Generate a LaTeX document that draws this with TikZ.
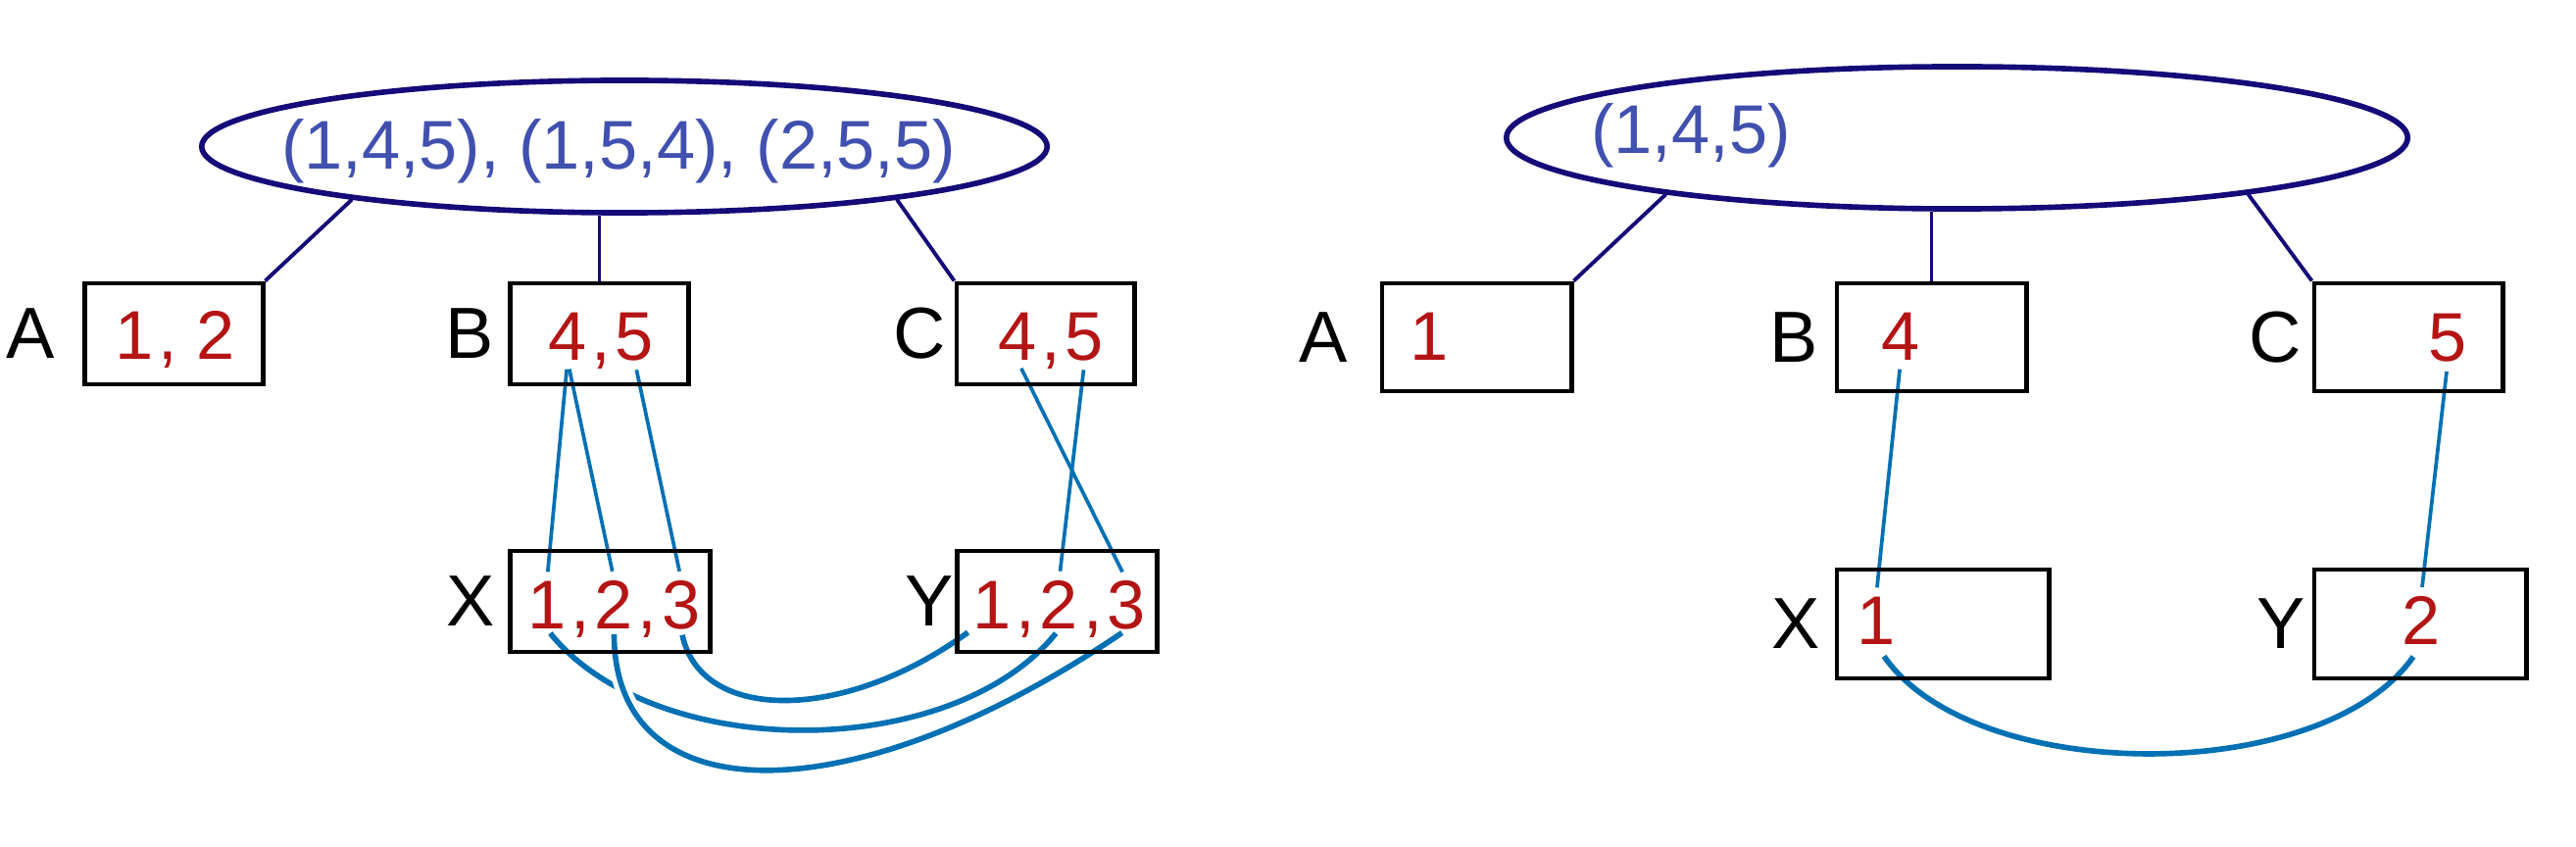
\documentclass[tikz,border=0pt]{standalone}
\usepackage{fontspec}
\setmainfont{Liberation Sans}
\usepackage{xcolor}
\usepackage{tikz}
\usetikzlibrary{shapes.geometric, positioning, backgrounds}
\definecolor{setnavy}{RGB}{20, 10, 120}
\definecolor{tupleblue}{RGB}{65, 80, 175}
\definecolor{valred}{RGB}{180, 20, 20}
\definecolor{linkblue}{RGB}{0, 112, 180}

\begin{document}
\begin{tikzpicture}[
    x=0.01cm, y=-0.01cm,
    setnode/.style={ellipse, draw=setnavy, line width=1.6pt, inner sep=0pt},
    tuples/.style={text=tupleblue, font=\fontsize{20}{24}\selectfont, inner sep=0pt},
    box/.style={rectangle, draw, line width=1.4pt, minimum width=1.81cm, minimum height=1.03cm},
    lbl/.style={font=\fontsize{21}{25}\selectfont, inner sep=0pt},
    val/.style={text=valred, font=\fontsize{20}{24}\selectfont, inner sep=0pt},
    sep/.style={val, anchor=base west, xshift=1pt},
    tie/.style={setnavy, line width=1.1pt},
    link/.style={linkblue, line width=1.05pt, shorten <=2.5pt, shorten >=2.5pt},
    pair/.style={linkblue, line width=1.6pt, shorten <=1.5pt, shorten >=1.5pt},
    halo/.style={preaction={draw=white, line width=4.5pt}}
]
\useasboundingbox (0,0) rectangle (2628,864);

% left: three tuples
\node[setnode, minimum width=8.62cm, minimum height=1.35cm] (lE) at (637,149.5) {};
\node[tuples] (lT) at (631,154) {(1,4,5), (1,5,4), (2,5,5)};

\node[box] (lA) at (177.5,340.5) {};
\node[box] (lB) at (611.5,340.5) {};
\node[box] (lC) at (1066.5,340.5) {};
\node[box, minimum width=2.03cm] (lX) at (622.5,613.5) {};
\node[box, minimum width=2.03cm] (lY) at (1078.5,613.5) {};

\node[lbl, left=8pt of lA] (lAl) {A};
\node[lbl, left=4.1pt of lB] (lBl) {B};
\node[lbl, left=2.4pt of lC] (lCl) {C};
\node[lbl, left=3.6pt of lX] (lXl) {X};
\node[lbl, left=0.4pt of lY] (lYl) {Y};

\node[val] (la1) at (137,342) {1};
\node[sep] (la1c) at (la1.base east) {,};
\node[sep, xshift=4pt] (la2) at (la1c.base east) {2};
\node[val] (lb4) at (579,343) {4};
\node[sep] (lb4c) at (lb4.base east) {,};
\node[sep] (lb5) at (lb4c.base east) {5};
\node[val] (lc4) at (1038,343) {4};
\node[sep] (lc4c) at (lc4.base east) {,};
\node[sep] (lc5) at (lc4c.base east) {5};
\node[val] (lx1) at (558,617) {1};
\node[sep] (lx1c) at (lx1.base east) {,};
\node[sep] (lx2) at (lx1c.base east) {2};
\node[sep] (lx2c) at (lx2.base east) {,};
\node[sep] (lx3) at (lx2c.base east) {3};
\node[val] (ly1) at (1012,617) {1};
\node[sep] (ly1c) at (ly1.base east) {,};
\node[sep] (ly2) at (ly1c.base east) {2};
\node[sep] (ly2c) at (ly2.base east) {,};
\node[sep] (ly3) at (ly2c.base east) {3};

\draw[tie] (lE.191) -- (lA.north east);
\draw[tie] (lB.north) -- (lB.north |- lE.south);
\draw[tie] (lE.-11) -- (lC.north west);

% right: one tuple
\node[setnode, minimum width=9.19cm, minimum height=1.45cm] (rE) at (1996.5,140.5) {};
\node[tuples] (rT) at (1725,138) {(1,4,5)};

\node[box, minimum width=1.93cm, minimum height=1.1cm] (rA) at (1506.5,344) {};
\node[box, minimum width=1.93cm, minimum height=1.1cm] (rB) at (1970.5,344) {};
\node[box, minimum width=1.92cm, minimum height=1.1cm] (rC) at (2457,344) {};
\node[box, minimum width=2.16cm, minimum height=1.11cm] (rX) at (1982,636.5) {};
\node[box, minimum width=2.16cm, minimum height=1.11cm] (rY) at (2469,636.5) {};

\node[lbl, left=9.2pt of rA] (rAl) {A};
\node[lbl, left=4.7pt of rB] (rBl) {B};
\node[lbl, left=2.7pt of rC] (rCl) {C};
\node[lbl, left=4.1pt of rX] (rXl) {X};
\node[lbl, left=1.6pt of rY] (rYl) {Y};

\node[val] (ra1) at (1458,343) {1};
\node[val] (rb4) at (1939,343) {4};
\node[val] (rc5) at (2497,345) {5};
\node[val] (rx1) at (1914,633) {1};
\node[val] (ry2) at (2470,633) {2};

\draw[tie] (rE.191) -- (rA.north east);
\draw[tie] (rB.north) -- (rB.north |- rE.south);
\draw[tie] (rE.-11) -- (rC.north west);

\begin{pgfonlayer}{background}
\draw[link] (lb4.south) -- (lx1.north);
\draw[link] (lb4.south) -- (lx2.north);
\draw[link] (lb5.south) -- (lx3.north);
\draw[link] (lc4.south) -- (ly3.north);
\draw[link] (lc5.south) -- (ly2.north);
\draw[pair] (lx1.south) .. controls +(110,136) and +(-110,136) .. (ly2.south);
\draw[pair] (lx3.south) .. controls +(20,95) and +(-130,95) .. (ly1.south west);
\draw[pair, halo] (lx2.south) .. controls +(0,190) and +(-280,190) .. (ly3.south);

\draw[link] (rb4.south) -- (rx1.north);
\draw[link] (rc5.south) -- (ry2.north);
\draw[pair, shorten <=4pt, shorten >=4pt] (rx1.south) .. controls +(100,144) and +(-100,144) .. (ry2.south);
\end{pgfonlayer}
\end{tikzpicture}
\end{document}
